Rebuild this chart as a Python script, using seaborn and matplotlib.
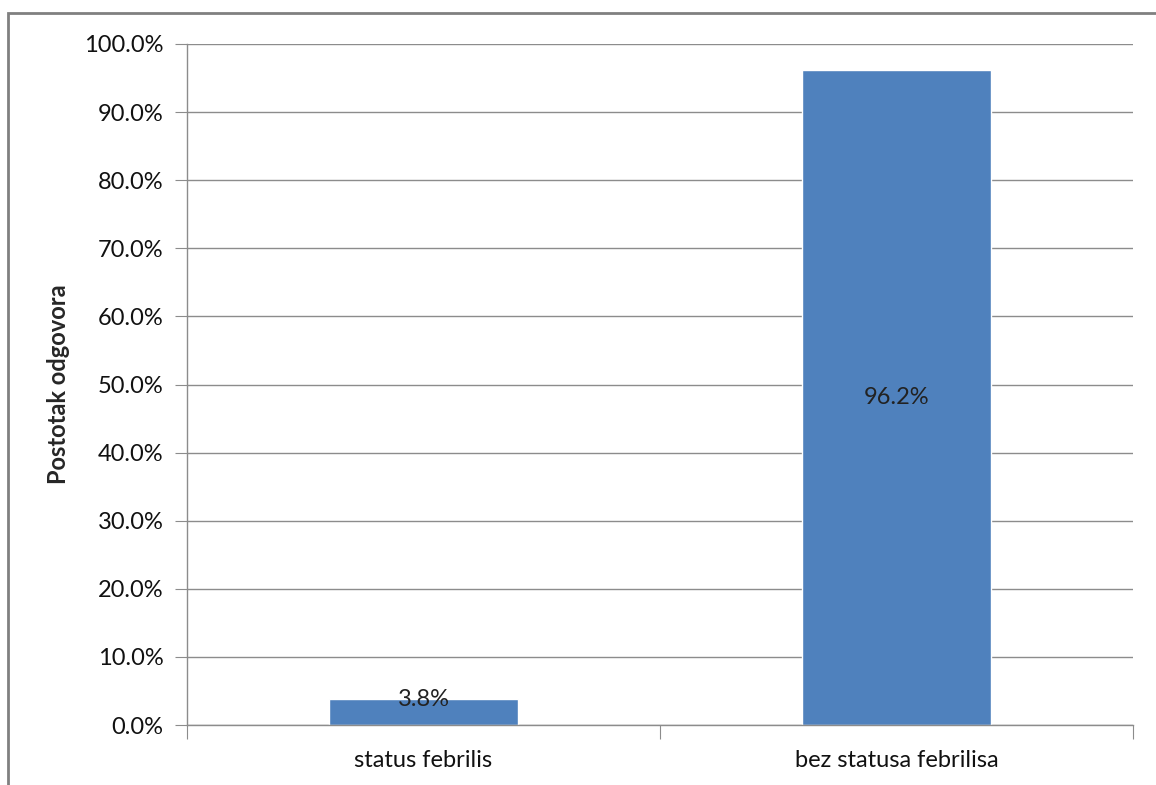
import matplotlib.pyplot as plt
import matplotlib.patches as mpatches
from matplotlib.ticker import FuncFormatter, MultipleLocator
import seaborn as sns
import pandas as pd

categories = ['status febrilis', 'bez statusa febrilisa']
values = [3.8, 96.2]
value_labels = ['3.8%', '96.2%']

sns.set_style('white')
plt.rcParams['font.family'] = ['Lato', 'DejaVu Sans']

df = pd.DataFrame({'kategorija': categories, 'postotak': values})

fig = plt.figure(figsize=(11.56, 7.85), dpi=100)
ax = fig.add_axes([187 / 1156, 1 - 725 / 785, (1133 - 187) / 1156, (725 - 44) / 785])

sns.barplot(data=df, x='kategorija', y='postotak', color='#4F81BD',
            saturation=1, width=0.4, ax=ax)

ax.set_ylim(0, 100)
ax.set_xlim(-0.5, 1.5)
ax.yaxis.set_major_locator(MultipleLocator(10))
ax.yaxis.set_major_formatter(FuncFormatter(lambda v, p: f'{v:.1f}%'))
ax.grid(axis='y', color='#8c8c8c', linewidth=1)
ax.set_axisbelow(True)

for s in ['top', 'right']:
    ax.spines[s].set_visible(False)
for s in ['left', 'bottom']:
    ax.spines[s].set_color('#8c8c8c')
    ax.spines[s].set_linewidth(1)

ax.tick_params(axis='y', left=True, length=9, color='#8c8c8c', labelsize=17,
               labelcolor='#111111', pad=8)
ax.set_xticks([-0.5, 0.5, 1.5], minor=False)
ax.set_xticks([0, 1], minor=True)
ax.set_xticklabels([], minor=False)
ax.set_xticklabels(categories, minor=True)
ax.tick_params(axis='x', which='major', bottom=True, length=10, color='#8c8c8c')
ax.tick_params(axis='x', which='minor', bottom=False, labelsize=17,
               labelcolor='#111111', pad=16)

ax.set_xlabel('')
ax.set_ylabel('Postotak odgovora', fontsize=17, fontweight='bold', labelpad=10)

for i, (v, lab) in enumerate(zip(values, value_labels)):
    y = v / 2 if v > 20 else v
    ax.text(i, y, lab, ha='center', va='center', fontsize=17, color='#222222')

# chart area frame
fig.patches.append(mpatches.Rectangle((8 / 1156, -0.1), 1.1, 1 - 13 / 785 + 0.1,
                                      transform=fig.transFigure, fill=False,
                                      edgecolor='#808080', linewidth=2))

plt.savefig('out.png', dpi=100)
